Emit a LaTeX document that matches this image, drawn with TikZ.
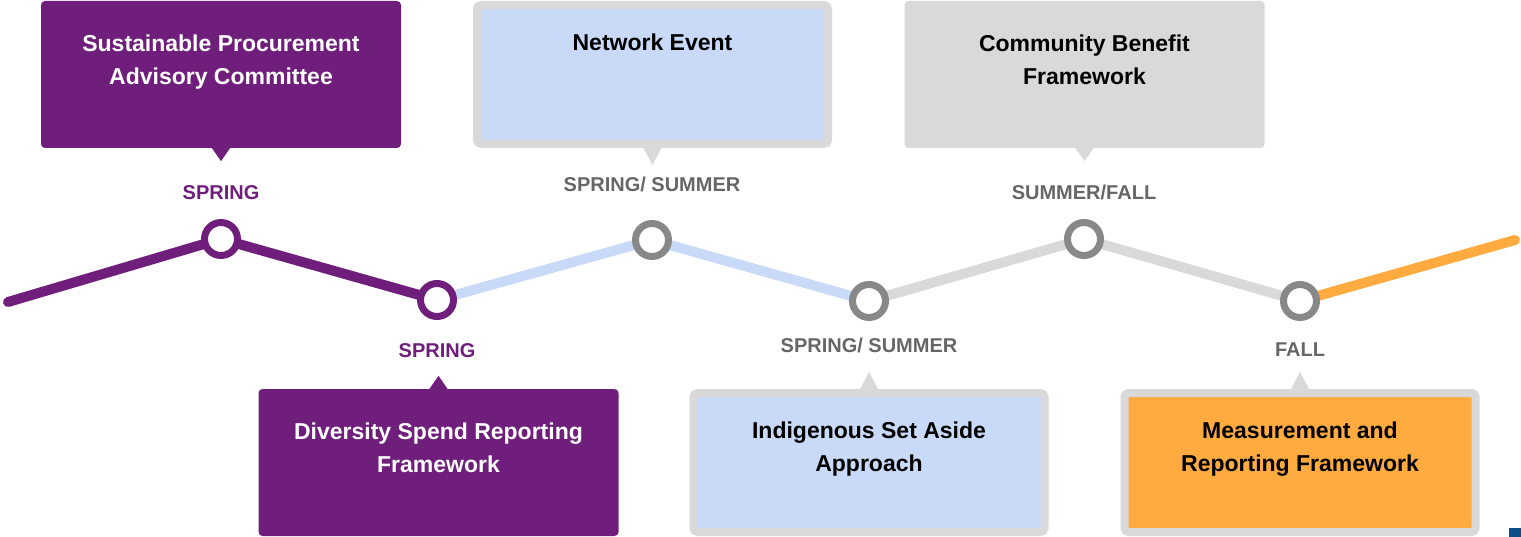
\documentclass[tikz,border=0pt]{standalone}
\usepackage{fontspec}
\setmainfont{Liberation Sans}
\usetikzlibrary{positioning}

\definecolor{plum}{RGB}{112,30,124}
\definecolor{skyblue}{RGB}{201,218,248}
\definecolor{palegrey}{RGB}{217,217,217}
\definecolor{ringgrey}{RGB}{136,136,136}
\definecolor{textgrey}{RGB}{102,102,102}
\definecolor{amber}{RGB}{255,171,64}
\definecolor{navy}{RGB}{11,79,138}

\begin{document}
\begin{tikzpicture}[
    x=1pt, y=-1pt,
    track/.style={line width=10pt, line cap=round, line join=round},
    stop/.style={circle, draw=#1, line width=7pt, fill=white, minimum size=33pt, inner sep=0pt},
    season/.style={font=\fontsize{20}{22}\selectfont\bfseries, text=#1, inner sep=0pt},
    card/.style={rectangle, rounded corners=4pt, minimum width=360pt, minimum height=147pt, inner sep=0pt, fill=#1},
    framed/.style={card=#1, draw=palegrey, line width=8pt, minimum width=351pt, minimum height=139pt},
    cardtext/.style={font=\fontsize{23}{33}\selectfont\bfseries, align=center, text=#1, inner sep=0pt, anchor=base}
]
    \useasboundingbox (0,0) rectangle (1521,537);

    % timeline points
    \coordinate (p0) at (8,302);
    \coordinate (p1) at (221,239);
    \coordinate (p2) at (437,300);
    \coordinate (p3) at (652,240);
    \coordinate (p4) at (869,301);
    \coordinate (p5) at (1084,239);
    \coordinate (p6) at (1300,301);
    \coordinate (p7) at (1515,240);

    \draw[track, plum] (p0) -- (p1) -- (p2);
    \draw[track, skyblue] (p2) -- (p3) -- (p4);
    \draw[track, palegrey] (p4) -- (p5) -- (p6);
    \draw[track, amber] (p6) -- (p7);

    \node[stop=plum] (m1) at (p1) {};
    \node[stop=plum] (m2) at (p2) {};
    \node[stop=ringgrey] (m3) at (p3) {};
    \node[stop=ringgrey] (m4) at (p4) {};
    \node[stop=ringgrey] (m5) at (p5) {};
    \node[stop=ringgrey] (m6) at (p6) {};

    % seasons
    \node[season=plum, above=19pt of m1] (s1) {SPRING};
    \node[season=plum, below=23pt of m2] (s2) {SPRING};
    \node[season=textgrey, above=28pt of m3] (s3) {SPRING/ SUMMER};
    \node[season=textgrey, below=17pt of m4] (s4) {SPRING/ SUMMER};
    \node[season=textgrey, above=19pt of m5] (s5) {SUMMER/FALL};
    \node[season=textgrey, below=22pt of m6] (s6) {FALL};

    % cards above the line (base = last line)
    \node[card=plum] (spac) at (221,74.5) {};
    \fill[plum] ([xshift=-9pt]spac.south) -- ([yshift=-13pt]spac.south) -- ([xshift=9pt]spac.south) -- cycle;
    \node[cardtext=white] (spac-text) at ([yshift=-83.5pt]spac.north) {Sustainable Procurement\\Advisory Committee};

    \node[framed=skyblue] (net) at (652.5,74.5) {};
    \fill[palegrey] ([xshift=-9pt]net.south) -- ([yshift=-17pt]net.south) -- ([xshift=9pt]net.south) -- cycle;
    \node[cardtext=black] (net-text) at ([yshift=-50pt]net.north) {Network Event};

    \node[card=palegrey] (cbf) at (1084.5,74.5) {};
    \fill[palegrey] ([xshift=-9pt]cbf.south) -- ([yshift=-13pt]cbf.south) -- ([xshift=9pt]cbf.south) -- cycle;
    \node[cardtext=black] (cbf-text) at ([yshift=-83.5pt]cbf.north) {Community Benefit\\Framework};

    % cards below the line
    \node[card=plum] (dsr) at (438.5,462.5) {};
    \fill[plum] ([xshift=-9pt]dsr.north) -- ([yshift=13pt]dsr.north) -- ([xshift=9pt]dsr.north) -- cycle;
    \node[cardtext=white] (dsr-text) at ([yshift=-83.5pt]dsr.north) {Diversity Spend Reporting\\Framework};

    \node[framed=skyblue] (isa) at (869,462.5) {};
    \fill[palegrey] ([xshift=-9pt]isa.north) -- ([yshift=17pt]isa.north) -- ([xshift=9pt]isa.north) -- cycle;
    \node[cardtext=black] (isa-text) at ([yshift=-82.5pt]isa.north) {Indigenous Set Aside\\Approach};

    \node[framed=amber] (mrf) at (1300,462.5) {};
    \fill[palegrey] ([xshift=-9pt]mrf.north) -- ([yshift=17pt]mrf.north) -- ([xshift=9pt]mrf.north) -- cycle;
    \node[cardtext=black] (mrf-text) at ([yshift=-82.5pt]mrf.north) {Measurement and\\Reporting Framework};

    \fill[navy] (1509,528) rectangle (1521,537);
\end{tikzpicture}
\end{document}
